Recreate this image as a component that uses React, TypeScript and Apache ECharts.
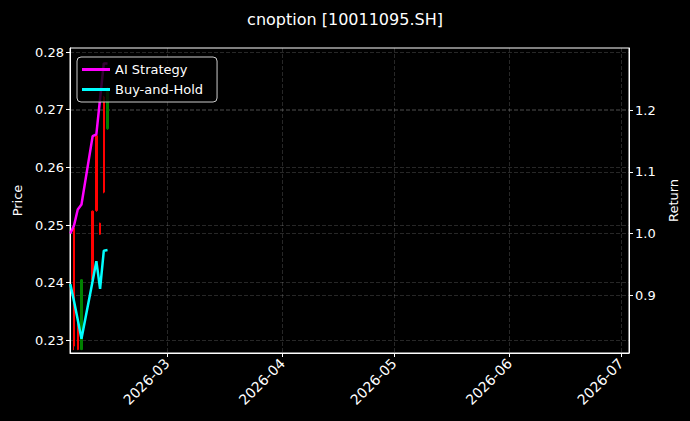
import React, { useEffect, useRef } from 'react';
import * as echarts from 'echarts';

// trading days shown on the chart
const dates = ['2026-02-03', '2026-02-04', '2026-02-05', '2026-02-06', '2026-02-09', '2026-02-10', '2026-02-11', '2026-02-12', '2026-02-13'];

// candles: date, open, close, low, high
const candleDates = ['2026-02-04', '2026-02-05', '2026-02-06', '2026-02-09', '2026-02-10', '2026-02-11', '2026-02-12', '2026-02-13'];
const opens = [0.2290, 0.2284, 0.2405, 0.2405, 0.2525, 0.2484, 0.2557, 0.2737];
const closes = [0.2495, 0.2332, 0.2284, 0.2524, 0.2655, 0.2503, 0.2722, 0.2667];
const lows = [0.2283, 0.2283, 0.2283, 0.2404, 0.2523, 0.2483, 0.2555, 0.2665];
const highs = [0.2497, 0.2333, 0.2406, 0.2525, 0.2657, 0.2504, 0.2724, 0.2739];

const aiStrategy = [1.0, 1.013, 1.039, 1.047, 1.158, 1.161, 1.219, 1.276, 1.276];
const buyAndHold = [0.918, 0.89, 0.86, 0.829, 0.923, 0.955, 0.91, 0.972, 0.973];

const priceTicks = [0.23, 0.24, 0.25, 0.26, 0.27, 0.28];
const returnTicks = [0.9, 1.0, 1.1, 1.2];
const monthTicks = ['2026-03-01', '2026-04-01', '2026-05-01', '2026-06-01', '2026-07-01'];

const toTime = (s: string) => {
    const [y, m, d] = s.split('-').map(Number);
    return new Date(y, m - 1, d).getTime();
};

export default function App() {
    const chartRef = useRef<HTMLDivElement>(null);

    useEffect(() => {
        document.body.style.margin = '0';
        const chart = echarts.init(chartRef.current!, null, { renderer: 'svg' });

        const font = 'DejaVu Sans';
        const gridLine = { show: true, lineStyle: { color: 'rgba(255,255,255,0.22)', type: [4, 2], width: 0.7 } };
        const xMin = toTime('2026-02-03') - 2 * 3600 * 1000;
        const xMax = toTime('2026-07-03') + 3 * 3600 * 1000;
        const monthValues = monthTicks.map(toTime);

        chart.setOption({
            animation: false,
            backgroundColor: '#000',
            title: {
                text: 'cnoption [10011095.SH]',
                left: 'center',
                top: 6,
                textStyle: { color: '#fff', fontSize: 16, fontWeight: 'normal', fontFamily: font },
            },
            legend: {
                data: ['AI Strategy', 'Buy-and-Hold'],
                orient: 'vertical',
                left: 77,
                top: 57,
                padding: [6, 14, 6, 5],
                itemGap: 7,
                itemWidth: 28,
                itemHeight: 3,
                icon: 'rect',
                backgroundColor: 'rgba(0,0,0,0.8)',
                borderColor: '#ccc',
                borderWidth: 1,
                borderRadius: 4,
                textStyle: { color: '#fff', fontSize: 13, fontFamily: font },
            },
            grid: { left: 70, right: 61, top: 48, bottom: 68, show: true, borderColor: '#fff', borderWidth: 1, backgroundColor: 'transparent' },
            xAxis: {
                type: 'value',
                min: xMin,
                max: xMax,
                axisLine: { lineStyle: { color: '#fff' } },
                axisTick: { show: true, length: 4, lineStyle: { color: '#fff' }, customValues: monthValues },
                axisLabel: {
                    color: '#fff',
                    fontSize: 14,
                    fontFamily: font,
                    rotate: 45,
                    margin: 8,
                    customValues: monthValues,
                    formatter: (v: number) => {
                        const d = new Date(v);
                        return `${d.getFullYear()}-${String(d.getMonth() + 1).padStart(2, '0')}`;
                    },
                },
                splitLine: gridLine,
            },
            yAxis: [
                {
                    type: 'value',
                    name: 'Price',
                    nameLocation: 'middle',
                    nameGap: 46,
                    nameTextStyle: { color: '#fff', fontSize: 13, fontFamily: font },
                    min: 0.2278,
                    max: 0.2807,
                    axisLine: { show: true, lineStyle: { color: '#fff' } },
                    axisTick: { show: true, length: 4, lineStyle: { color: '#fff' }, customValues: priceTicks },
                    axisLabel: { color: '#fff', fontSize: 13, fontFamily: font, margin: 6, customValues: priceTicks, formatter: (v: number) => v.toFixed(2) },
                    splitLine: gridLine,
                },
                {
                    type: 'value',
                    name: 'Return',
                    nameLocation: 'middle',
                    nameGap: 38,
                    nameRotate: 90,
                    nameTextStyle: { color: '#fff', fontSize: 13, fontFamily: font },
                    min: 0.806,
                    max: 1.301,
                    position: 'right',
                    axisLine: { show: true, lineStyle: { color: '#fff' } },
                    axisTick: { show: true, length: 4, lineStyle: { color: '#fff' }, customValues: returnTicks },
                    axisLabel: { color: '#fff', fontSize: 13, fontFamily: font, margin: 6, customValues: returnTicks, formatter: (v: number) => v.toFixed(1) },
                    splitLine: gridLine,
                },
            ],
            series: [
                {
                    type: 'candlestick',
                    yAxisIndex: 0,
                    barWidth: 2,
                    itemStyle: { color: '#ff0000', color0: '#008000', borderColor: '#ff0000', borderColor0: '#008000', borderWidth: 1 },
                    data: candleDates.map((d, i) => [toTime(d), opens[i], closes[i], lows[i], highs[i]]),
                },
                {
                    name: 'AI Strategy',
                    type: 'line',
                    yAxisIndex: 1,
                    showSymbol: false,
                    lineStyle: { color: '#ff00ff', width: 2.5 },
                    itemStyle: { color: '#ff00ff' },
                    data: dates.map((d, i) => [toTime(d), aiStrategy[i]]),
                },
                {
                    name: 'Buy-and-Hold',
                    type: 'line',
                    yAxisIndex: 1,
                    showSymbol: false,
                    lineStyle: { color: '#00ffff', width: 2.5 },
                    itemStyle: { color: '#00ffff' },
                    data: dates.map((d, i) => [toTime(d), buyAndHold[i]]),
                },
            ],
        });

        return () => {
            chart.dispose();
        };
    }, []);

    return <div ref={chartRef} style={{ width: 690, height: 421 }} />;
}
